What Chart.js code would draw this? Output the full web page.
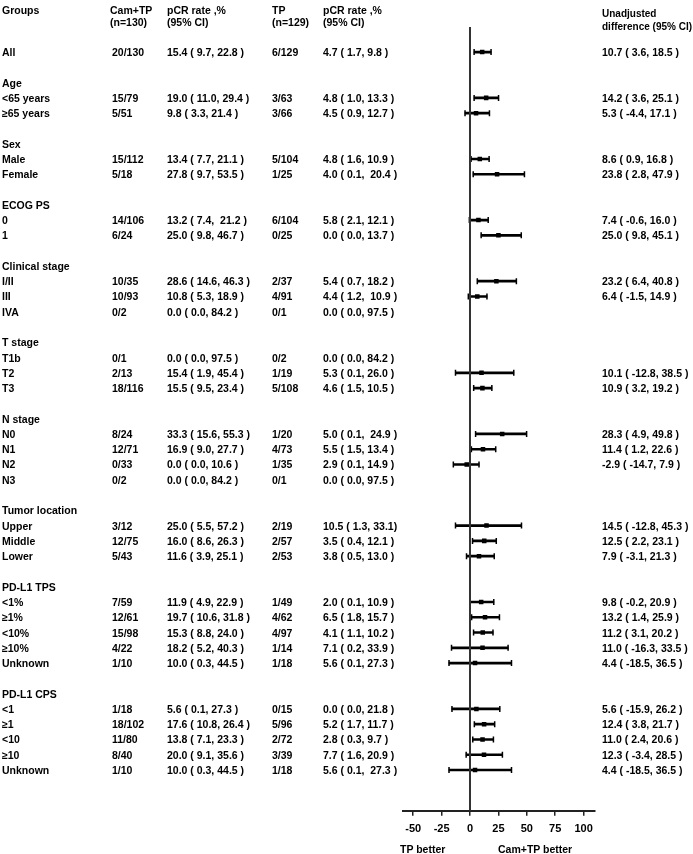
<!DOCTYPE html>
<html>
<head>
<meta charset="utf-8">
<script src="https://cdn.jsdelivr.net/npm/chart.js@4.4.0/dist/chart.umd.min.js"></script>
<style>
  body { margin: 0; background: #fff; }
  #wrap {
    position: relative; width: 693px; height: 854px;
    font-family: "Liberation Sans", Arial, sans-serif;
    font-weight: bold; font-size: 10.5px; color: #000;
  }
  #wrap canvas { position: absolute; left: 0; top: 0; }
  .t { position: absolute; white-space: pre; line-height: 12px; transform: translateY(-50%); }
</style>
</head>
<body>
<div id="wrap"><canvas id="chart" width="693" height="854"></canvas></div>
<script>
// one entry per row slot, "" / null = empty row
const groups = ["All", "", "Age", "<65 years", "≥65 years", "", "Sex", "Male", "Female", "",
  "ECOG PS", "0", "1", "", "Clinical stage", "I/II", "III", "IVA", "",
  "T stage", "T1b", "T2", "T3", "", "N stage", "N0", "N1", "N2", "N3", "",
  "Tumor location", "Upper", "Middle", "Lower", "",
  "PD-L1 TPS", "<1%", "≥1%", "<10%", "≥10%", "Unknown", "",
  "PD-L1 CPS", "<1", "≥1", "<10", "≥10", "Unknown"];

const camTP = ["20/130", "", "", "15/79", "5/51", "", "", "15/112", "5/18", "",
  "", "14/106", "6/24", "", "", "10/35", "10/93", "0/2", "",
  "", "0/1", "2/13", "18/116", "", "", "8/24", "12/71", "0/33", "0/2", "",
  "", "3/12", "12/75", "5/43", "",
  "", "7/59", "12/61", "15/98", "4/22", "1/10", "",
  "", "1/18", "18/102", "11/80", "8/40", "1/10"];

const camRate = ["15.4 ( 9.7, 22.8 )", "", "", "19.0 ( 11.0, 29.4 )", "9.8 ( 3.3, 21.4 )", "", "", "13.4 ( 7.7, 21.1 )", "27.8 ( 9.7, 53.5 )", "",
  "", "13.2 ( 7.4,  21.2 )", "25.0 ( 9.8, 46.7 )", "", "", "28.6 ( 14.6, 46.3 )", "10.8 ( 5.3, 18.9 )", "0.0 ( 0.0, 84.2 )", "",
  "", "0.0 ( 0.0, 97.5 )", "15.4 ( 1.9, 45.4 )", "15.5 ( 9.5, 23.4 )", "", "", "33.3 ( 15.6, 55.3 )", "16.9 ( 9.0, 27.7 )", "0.0 ( 0.0, 10.6 )", "0.0 ( 0.0, 84.2 )", "",
  "", "25.0 ( 5.5, 57.2 )", "16.0 ( 8.6, 26.3 )", "11.6 ( 3.9, 25.1 )", "",
  "", "11.9 ( 4.9, 22.9 )", "19.7 ( 10.6, 31.8 )", "15.3 ( 8.8, 24.0 )", "18.2 ( 5.2, 40.3 )", "10.0 ( 0.3, 44.5 )", "",
  "", "5.6 ( 0.1, 27.3 )", "17.6 ( 10.8, 26.4 )", "13.8 ( 7.1, 23.3 )", "20.0 ( 9.1, 35.6 )", "10.0 ( 0.3, 44.5 )"];

const tp = ["6/129", "", "", "3/63", "3/66", "", "", "5/104", "1/25", "",
  "", "6/104", "0/25", "", "", "2/37", "4/91", "0/1", "",
  "", "0/2", "1/19", "5/108", "", "", "1/20", "4/73", "1/35", "0/1", "",
  "", "2/19", "2/57", "2/53", "",
  "", "1/49", "4/62", "4/97", "1/14", "1/18", "",
  "", "0/15", "5/96", "2/72", "3/39", "1/18"];

const tpRate = ["4.7 ( 1.7, 9.8 )", "", "", "4.8 ( 1.0, 13.3 )", "4.5 ( 0.9, 12.7 )", "", "", "4.8 ( 1.6, 10.9 )", "4.0 ( 0.1,  20.4 )", "",
  "", "5.8 ( 2.1, 12.1 )", "0.0 ( 0.0, 13.7 )", "", "", "5.4 ( 0.7, 18.2 )", "4.4 ( 1.2,  10.9 )", "0.0 ( 0.0, 97.5 )", "",
  "", "0.0 ( 0.0, 84.2 )", "5.3 ( 0.1, 26.0 )", "4.6 ( 1.5, 10.5 )", "", "", "5.0 ( 0.1,  24.9 )", "5.5 ( 1.5, 13.4 )", "2.9 ( 0.1, 14.9 )", "0.0 ( 0.0, 97.5 )", "",
  "", "10.5 ( 1.3, 33.1)", "3.5 ( 0.4, 12.1 )", "3.8 ( 0.5, 13.0 )", "",
  "", "2.0 ( 0.1, 10.9 )", "6.5 ( 1.8, 15.7 )", "4.1 ( 1.1, 10.2 )", "7.1 ( 0.2, 33.9 )", "5.6 ( 0.1, 27.3 )", "",
  "", "0.0 ( 0.0, 21.8 )", "5.2 ( 1.7, 11.7 )", "2.8 ( 0.3, 9.7 )", "7.7 ( 1.6, 20.9 )", "5.6 ( 0.1,  27.3 )"];

// unadjusted difference and 95% CI
const diff = [10.7, null, null, 14.2, 5.3, null, null, 8.6, 23.8, null,
  null, 7.4, 25.0, null, null, 23.2, 6.4, null, null,
  null, null, 10.1, 10.9, null, null, 28.3, 11.4, -2.9, null, null,
  null, 14.5, 12.5, 7.9, null,
  null, 9.8, 13.2, 11.2, 11.0, 4.4, null,
  null, 5.6, 12.4, 11.0, 12.3, 4.4];
const lo = [3.6, null, null, 3.6, -4.4, null, null, 0.9, 2.8, null,
  null, -0.6, 9.8, null, null, 6.4, -1.5, null, null,
  null, null, -12.8, 3.2, null, null, 4.9, 1.2, -14.7, null, null,
  null, -12.8, 2.2, -3.1, null,
  null, -0.2, 1.4, 3.1, -16.3, -18.5, null,
  null, -15.9, 3.8, 2.4, -3.4, -18.5];
const hi = [18.5, null, null, 25.1, 17.1, null, null, 16.8, 47.9, null,
  null, 16.0, 45.1, null, null, 40.8, 14.9, null, null,
  null, null, 38.5, 19.2, null, null, 49.8, 22.6, 7.9, null, null,
  null, 45.3, 23.1, 21.3, null,
  null, 20.9, 25.9, 20.2, 33.5, 36.5, null,
  null, 26.2, 21.7, 20.6, 28.5, 36.5];

const xTicks = [-50, -25, 0, 25, 50, 75, 100];
const yMin = -1.64, yMax = 49.67;

const ci = [], caps = [], pts = [];
diff.forEach((d, i) => {
  if (d === null) return;
  ci.push({ x: [lo[i], hi[i]], y: i });
  caps.push({ x: lo[i], y: i }, { x: hi[i], y: i });
  pts.push({ x: d, y: i });
});

const chart = new Chart('chart', {
  type: 'scatter',
  data: {
    datasets: [
      { data: [{ x: 0, y: yMin }, { x: 0, y: yMax }], showLine: true, borderColor: '#333', borderWidth: 2, pointRadius: 0 },
      { type: 'bar', indexAxis: 'y', data: ci, backgroundColor: '#000', barThickness: 2, borderWidth: 0 },
      { data: caps, pointStyle: 'line', rotation: 90, radius: 3, borderColor: '#000', borderWidth: 1.5 },
      { data: pts, pointStyle: 'rect', radius: 3.2, backgroundColor: '#000', borderColor: '#000', borderWidth: 0 }
    ]
  },
  options: {
    responsive: false,
    animation: false,
    layout: { padding: { left: 403, right: 98, top: 27, bottom: 11 } },
    plugins: { legend: { display: false }, tooltip: { enabled: false } },
    scales: {
      x: {
        type: 'linear', min: -59, max: 110, offset: false,
        afterBuildTicks: s => { s.ticks = xTicks.map(v => ({ value: v })); },
        ticks: { color: '#000', font: { family: 'Liberation Sans', weight: 'bold', size: 11 }, padding: 7 },
        grid: { drawOnChartArea: false, tickLength: 5, color: '#222', lineWidth: 1.5, offset: false },
        border: { color: '#222', width: 2 }
      },
      y: { type: 'linear', min: yMin, max: yMax, reverse: true, display: false, offset: false, grid: { offset: false } }
    }
  }
});

// table text, placed on the same rows as the plot
const wrap = document.getElementById('wrap');
function put(txt, x, y, size) {
  if (!txt) return;
  const d = document.createElement('div');
  d.className = 't';
  d.textContent = txt;
  d.style.left = x + 'px';
  d.style.top = y + 'px';
  if (size) d.style.fontSize = size + 'px';
  wrap.appendChild(d);
}
const ys = chart.scales.y;
groups.forEach((g, i) => {
  const y = ys.getPixelForValue(i);
  put(g, 2, y);
  put(camTP[i], 112, y);
  put(camRate[i], 167, y);
  put(tp[i], 272, y);
  put(tpRate[i], 323, y);
  if (diff[i] !== null) put(`${diff[i].toFixed(1)} ( ${lo[i].toFixed(1)}, ${hi[i].toFixed(1)} )`, 602, y);
});

put('Groups', 2, 10); put('Cam+TP', 110, 10); put('pCR rate ,%', 167, 10); put('TP', 272, 10); put('pCR rate ,%', 323, 10);
put('(n=130)', 110, 22); put('(95% CI)', 167, 22); put('(n=129)', 272, 22); put('(95% CI)', 323, 22);
put('Unadjusted', 602, 14, 10); put('difference (95% CI)', 602, 27, 10);
put('TP better', 400, 849); put('Cam+TP better', 498, 849);
</script>
</body>
</html>
